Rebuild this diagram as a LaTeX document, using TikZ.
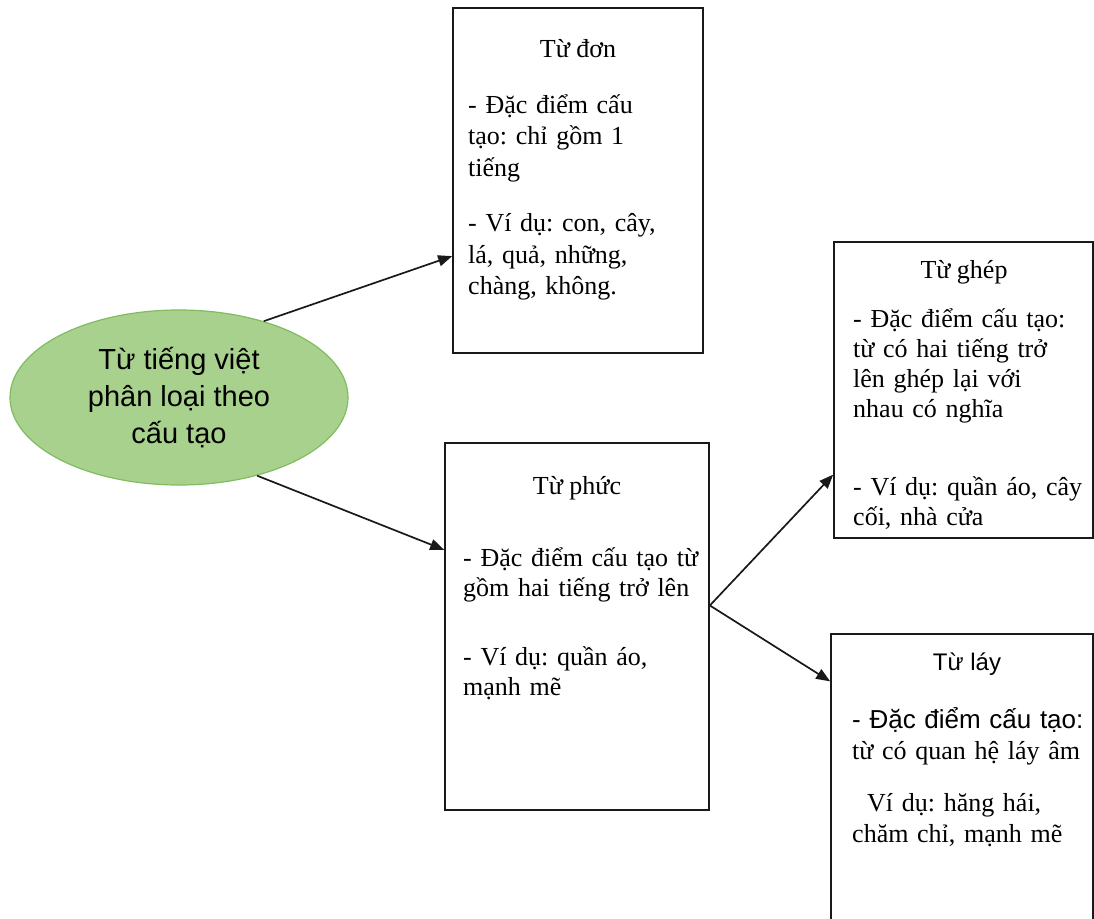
\documentclass[tikz,border=0pt]{standalone}
\usepackage{fontspec}
\setmainfont{Liberation Serif}
\setsansfont{Liberation Sans}
\usetikzlibrary{arrows.meta,shapes.geometric}
\definecolor{leafgreen}{RGB}{169,209,142}
\definecolor{leafedge}{RGB}{128,188,96}
\newcommand{\boxfont}{\rmfamily\fontsize{26}{30}\selectfont\frenchspacing\lineskiplimit=-\maxdimen}
\newcommand{\ovalfont}{\sffamily\fontsize{29}{37}\selectfont\lineskiplimit=-\maxdimen}

\begin{document}
\begin{tikzpicture}[x=1pt,y=-1pt,
  frame/.style={draw=black!90,line width=1.7pt,inner sep=0pt},
  title/.style={anchor=base,inner sep=0pt,font=\boxfont},
  body/.style={anchor=base west,inner sep=0pt,text width=250pt,align=left,font=\boxfont},
  link/.style={draw=black!90,line width=1.7pt,-{Triangle[length=14pt,width=11pt]}}]
\useasboundingbox (0,0) rectangle (1094,918);
\clip (0,0) rectangle (1094,918);

% main idea
\node[ellipse,draw=leafedge,fill=leafgreen,line width=1.2pt,inner sep=0pt,
      minimum width=338pt,minimum height=175pt,align=center,font=\ovalfont]
      (root) at (179,397.5) {Từ tiếng việt\\phân loại theo\\cấu tạo};

% boxes
\node[frame,minimum width=250pt,minimum height=345pt] (don) at (578,180.5) {};
\node[frame,minimum width=264pt,minimum height=367pt] (phuc) at (577,626.5) {};
\node[frame,minimum width=259pt,minimum height=296pt] (ghep) at (963.5,390) {};
\node[frame,minimum width=262pt,minimum height=316pt] (lay) at (962,792) {};

% titles
\node[title] (dontitle) at (578,57) {Từ đơn};
\node[title] (phuctitle) at (577,494) {Từ phức};
\node[title] (gheptitle) at (964,278) {Từ ghép};
\node[title,font=\sffamily\fontsize{24}{28}\selectfont] (laytitle) at (967,670) {Từ láy};

% texts
\node[body,font={\boxfont\baselineskip=31.5pt}] (donbody) at (468,113)
  {- Đặc điểm cấu\\tạo: chỉ gồm 1\\tiếng\\[24pt]- Ví dụ: con, cây,\\lá, quả, những,\\chàng, không.};
\node[body] (phucbody) at (463,566)
  {- Đặc điểm cấu tạo từ\\gồm hai tiếng trở lên\\[39pt]- Ví dụ: quần áo,\\mạnh mẽ};
\node[body] (ghepbody) at (853,327)
  {- Đặc điểm cấu tạo:\\từ có hai tiếng trở\\lên ghép lại với\\nhau có nghĩa\\[48pt]- Ví dụ: quần áo, cây\\cối, nhà cửa};
\node[body,font={\boxfont\baselineskip=31pt}] (laybody) at (852,728)
  {{\sffamily - Đặc điểm cấu tạo:}\\từ có quan hệ láy âm\\[21pt]\hspace*{15pt}Ví dụ: hăng hái,\\chăm chỉ, mạnh mẽ};

% arrows
\draw[link] (root.42) -- (don.211);
\draw[link] (root.-45) -- (phuc.150);
\draw[link] (phuc.9) -- (ghep.213);
\draw[link] (phuc.9) -- (lay.140);

\end{tikzpicture}
\end{document}
